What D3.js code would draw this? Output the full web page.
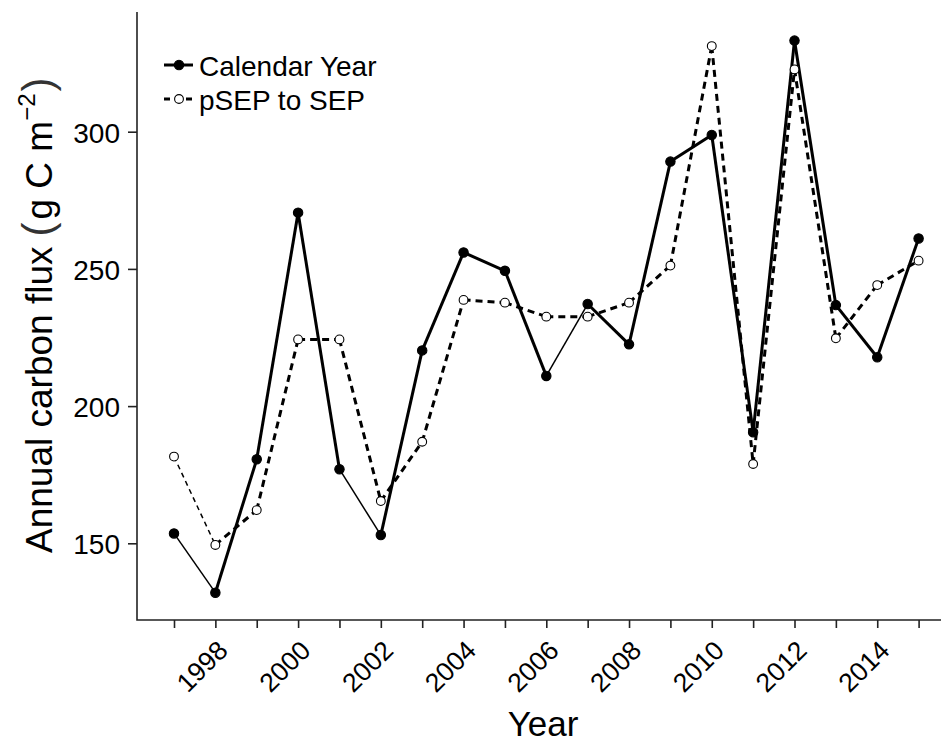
<!DOCTYPE html>
<html>
<head>
<meta charset="utf-8">
<script src="https://cdn.jsdelivr.net/npm/d3@7"></script>
<style>
  html, body { margin: 0; padding: 0; background: #fff; }
  svg { display: block; }
  text { font-family: "Liberation Sans", Arial, sans-serif; fill: #000; }
</style>
</head>
<body>
<div id="chart"></div>
<script>
// ---- data ----
const years = [1997, 1998, 1999, 2000, 2001, 2002, 2003, 2004, 2005, 2006, 2007, 2008, 2009, 2010, 2011, 2012, 2013, 2014, 2015];
const calendarYear = [153.6, 132.0, 180.6, 270.5, 177.0, 153.0, 220.3, 256.0, 249.3, 211.0, 237.2, 222.5, 289.1, 298.8, 190.5, 333.2, 236.8, 217.8, 261.1];
const pSEPtoSEP = [181.6, 149.4, 162.1, 224.3, 224.3, 165.4, 187.0, 238.7, 237.7, 232.6, 232.6, 237.7, 251.2, 331.2, 178.9, 322.7, 224.7, 244.1, 253.0];
const yTicks = [150, 200, 250, 300];
const xLabelYears = [1998, 2000, 2002, 2004, 2006, 2008, 2010, 2012, 2014];
const seriesNames = ["Calendar Year", "pSEP to SEP"];
// per-segment line weight (style): listed segments are drawn thin
const calThinSegments = [0, 4, 9];
const psepThinSegments = [0];

// ---- layout ----
const W = 941, H = 742;
const svg = d3.select("#chart").append("svg").attr("width", W).attr("height", H);

const x = d3.scaleLinear().domain([1997, 2015]).range([174, 918.6]);
const y = d3.scaleLinear().domain([150, 300]).range([543.3, 131.7]);

const axisLeftX = 137, axisBottomY = 620, plotTop = 12, plotRight = 941;

// axes lines (L-shaped box)
svg.append("path")
  .attr("d", `M${axisLeftX},${plotTop}V${axisBottomY}H${plotRight}`)
  .attr("fill", "none").attr("stroke", "#222").attr("stroke-width", 1.6);

// y axis
const yAxis = svg.append("g").attr("transform", `translate(${axisLeftX},0)`)
  .call(d3.axisLeft(y).tickValues(yTicks).tickSize(9).tickPadding(8).tickFormat(d3.format("d")));
yAxis.select(".domain").remove();
yAxis.selectAll(".tick line").attr("stroke", "#222").attr("stroke-width", 1.6);
yAxis.selectAll(".tick text").attr("font-size", 28).attr("dy", "0.38em")
  .attr("font-family", "Liberation Sans, Arial, sans-serif").attr("fill", "#000");

// x axis
const xAxis = svg.append("g").attr("transform", `translate(0,${axisBottomY})`)
  .call(d3.axisBottom(x).tickValues(years).tickSize(8).tickFormat(""));
xAxis.select(".domain").remove();
xAxis.selectAll(".tick line").attr("stroke", "#222").attr("stroke-width", 1.6);

svg.append("g").selectAll("text").data(xLabelYears).join("text")
  .attr("transform", d => `translate(${x(d) + 14},${axisBottomY + 32}) rotate(-45)`)
  .attr("text-anchor", "end")
  .attr("font-size", 26.5)
  .text(d => d);

// axis titles
svg.append("text")
  .attr("x", 543).attr("y", 736)
  .attr("text-anchor", "middle")
  .attr("font-size", 35)
  .text("Year");

const yt = svg.append("text")
  .attr("transform", "translate(52,553) rotate(-90)")
  .attr("font-size", 37);
yt.append("tspan").text("Annual carbon flux");
yt.append("tspan").attr("dx", 10).attr("font-size", 42).attr("fill", "#333").text("(");
yt.append("tspan").attr("dx", 3).text("g C m");
yt.append("tspan").attr("dy", -17).attr("font-size", 24).text("\u22122");
yt.append("tspan").attr("dy", 17).attr("dx", 2).attr("font-size", 42).attr("fill", "#333").text(")");

// ---- series ----
function drawSeries(values, thin, dashed, filled) {
  const pts = years.map((yr, i) => [x(yr), y(values[i])]);
  const g = svg.append("g");
  for (let i = 0; i < pts.length - 1; i++) {
    g.append("line")
      .attr("x1", pts[i][0]).attr("y1", pts[i][1])
      .attr("x2", pts[i + 1][0]).attr("y2", pts[i + 1][1])
      .attr("stroke", "#000")
      .attr("stroke-width", thin.includes(i) ? 1.5 : 3)
      .attr("stroke-dasharray", dashed ? (thin.includes(i) ? "5,4" : "7,5") : null);
  }
  g.selectAll("circle").data(pts).join("circle")
    .attr("cx", d => d[0]).attr("cy", d => d[1])
    .attr("r", filled ? 4.7 : 4.4)
    .attr("fill", filled ? "#000" : "#fff")
    .attr("stroke", "#000").attr("stroke-width", 1.1);
}
drawSeries(calendarYear, calThinSegments, false, true);
drawSeries(pSEPtoSEP, psepThinSegments, true, false);

// ---- legend ----
const legend = svg.append("g");
const legendRows = [
  { name: seriesNames[0], y: 65, dashed: false, filled: true },
  { name: seriesNames[1], y: 99, dashed: true, filled: false }
];
legendRows.forEach(r => {
  legend.append("line").attr("x1", 164).attr("x2", 193).attr("y1", r.y).attr("y2", r.y)
    .attr("stroke", "#000").attr("stroke-width", 3)
    .attr("stroke-dasharray", r.dashed ? "6,5" : null);
  legend.append("circle").attr("cx", 179).attr("cy", r.y).attr("r", r.filled ? 4.7 : 4.4)
    .attr("fill", r.filled ? "#000" : "#fff").attr("stroke", "#000").attr("stroke-width", 1.1);
  legend.append("text").attr("x", 199).attr("y", r.y + 11).attr("font-size", 28).text(r.name);
});
</script>
</body>
</html>
